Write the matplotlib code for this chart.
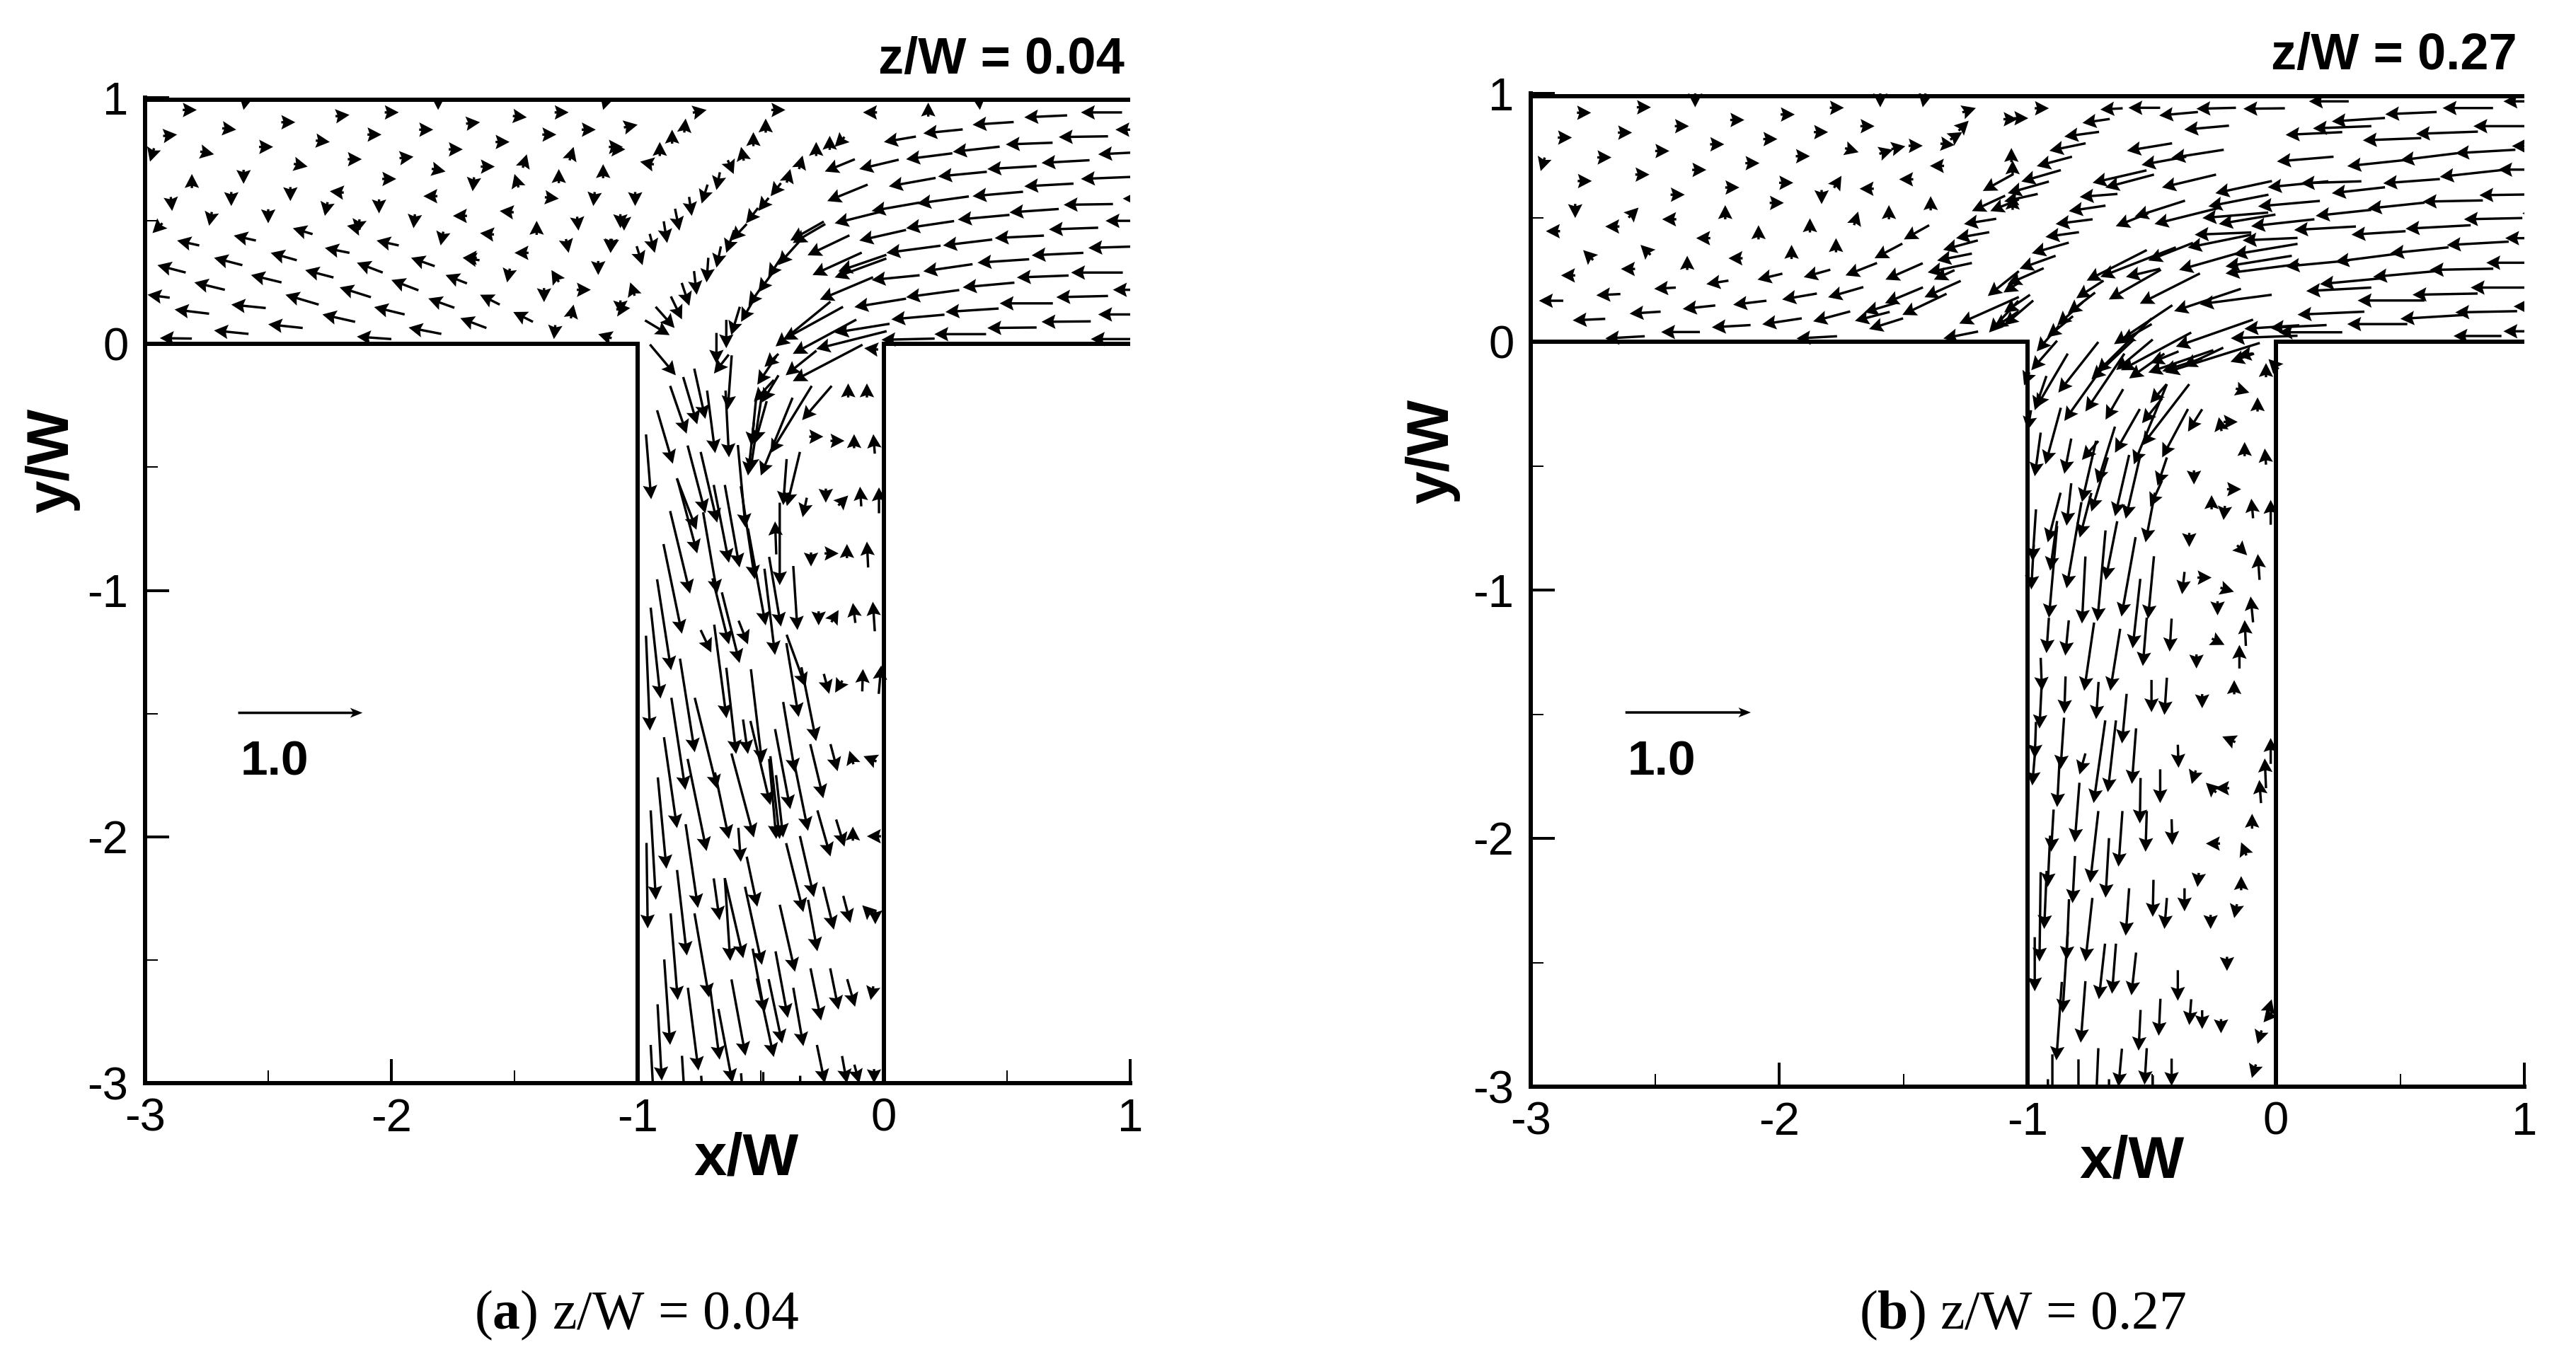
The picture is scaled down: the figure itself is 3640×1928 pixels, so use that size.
import numpy as np
import matplotlib
matplotlib.use('Agg')
import matplotlib.pyplot as plt

plt.rcParams['font.family'] = 'Liberation Sans'
plt.rcParams['mathtext.fontset'] = 'custom'
plt.rcParams['mathtext.bf'] = 'Liberation Serif:bold'
plt.rcParams['axes.unicode_minus'] = False

# ...
#==============================================================================
# tick labels and axis limits
#==============================================================================
x_ticks = [-3, -2, -1, 0, 1]
y_ticks = [-3, -2, -1, 0, 1]
x_tick_labels = ['-3', '-2', '-1', '0', '1']
y_tick_labels = ['-3', '-2', '-1', '0', '1']
x_minor = [-2.5, -1.5, -0.5, 0.5]
y_minor = [-2.5, -1.5, -0.5, 0.5]

# T junction walls (upper wall sits a little under y/W = 1)
wall_low_x = [-3, -1, -1]
wall_low_y = [0, 0, -3]
wall_right_x = [0, 0, 1]
wall_right_y = [-3, 0, 0]
wall_top_x = [-3, 1]
wall_top_left_y = [0.991, 0.991]
wall_top_right_y = [0.989, 0.989]

# reference vector
ref_tip_x = [-2.117, -2.114]
ref_tip_y = [-1.497, -1.493]
ref_u = 0.505

#==============================================================================
# panel a, arrow tips and vectors, upper left part of the main channel
#==============================================================================
a_field_x = [-2.79, -2.60, -2.87, -2.63, -2.72, -2.48, -2.39, -2.17, -2.25, -2.34,
             -2.12, -2.04, -1.97, -1.81, -1.83, -1.91, -1.71, -1.64, -1.45, -1.52,
             -1.58, -1.78, -1.98, -1.28, -1.14, -1.33, -1.17, -1.06, -1.45, -1.26,
             -1.14, -1.32, -1.50, -1.67, -1.32, -1.18, -1.87, -2.25, -2.41, -2.60,
             -2.81, -2.89, -2.65, -2.50, -2.74, -2.27, -2.05, -2.14, -1.91, -1.75,
             -1.56, -1.64, -1.41, -1.24, -1.07, -1.28, -1.11, -1.50, -1.80, -1.71,
             -1.16, -1.35, -1.53, -1.19, -1.38, -1.26, -1.07, -1.16, -1.34, -2.98,
             -2.97, -2.99, -2.87, -2.64, -2.40, -2.18, -2.27, -2.06, -2.49, -2.72,
             -2.95, -2.35, -2.14, -1.92, -1.78, -2.00, -1.71, -2.57, -2.80, -2.21,
             -2.43, -1.85, -1.64, -2.65, -2.88, -2.07, -2.28, -1.72, -1.505, -2.50,
             -2.72, -1.93, -2.14, -2.94]
a_field_y = [0.95, 0.95, 0.85, 0.87, 0.77, 0.80, 0.90, 0.93, 0.82, 0.72,
             0.75, 0.85, 0.94, 0.95, 0.87, 0.76, 0.79, 0.90, 0.92, 0.82,
             0.72, 0.70, 0.67, 0.94, 0.95, 0.85, 0.87, 0.80, 0.77, 0.80,
             0.73, 0.71, 0.69, 0.62, 0.59, 0.56, 0.60, 0.62, 0.58, 0.65,
             0.69, 0.54, 0.56, 0.49, 0.48, 0.52, 0.53, 0.45, 0.47, 0.52,
             0.54, 0.45, 0.50, 0.46, 0.47, 0.37, 0.37, 0.37, 0.40, 0.35,
             0.28, 0.30, 0.25, 0.22, 0.17, 0.16, 0.12, 0.04, 0.02, 0.74,
             0.45, 0.20, 0.42, 0.44, 0.47, 0.48, 0.39, 0.42, 0.37, 0.35,
             0.32, 0.30, 0.33, 0.35, 0.28, 0.26, 0.35, 0.28, 0.25, 0.23,
             0.20, 0.185, 0.20, 0.16, 0.14, 0.15, 0.12, 0.105, 0.13, 0.08,
             0.055, 0.067, 0.03, 0.024]
a_field_u = [0.03, -0.006, 0.03, 0.03, 0.03, 0.03, 0.03, 0.03, 0.03, 0.03,
             0.03, 0.03, 0.03, 0.0, 0.03, 0.03, 0.03, 0.03, 0.03, 0.03,
             0.03, 0.03, 0.03, 0.03, -0.009, 0.03, 0.03, 0.03, 0.009, 0.009,
             0.0, 0.0, -0.009, -0.003, 0.03, -0.003, -0.03, -0.03, 0.0, 0.0,
             0.0, 0.003, 0.0, 0.0, -0.006, -0.006, 0.0, -0.006, -0.003, -0.03,
             -0.03, -0.03, 0.0, 0.003, 0.0, 0.006, 0.0, -0.03, -0.006, -0.03,
             0.0, -0.015, -0.006, 0.03, 0.0, 0.006, 0.0, -0.03, -0.003, -0.009,
             -0.02, -0.09, -0.09, -0.09, -0.08, -0.055, -0.10, -0.09, -0.106, -0.115,
             -0.115, -0.115, -0.105, -0.096, -0.087, -0.11, -0.068, -0.124, -0.124, -0.127,
             -0.135, -0.106, -0.08, -0.14, -0.14, -0.124, -0.133, -0.106, -0.08, -0.14,
             -0.14, -0.133, -0.14, -0.13]
a_field_v = [0.0, -0.03, 0.003, -0.003, -0.006, 0.0, 0.0, 0.003, -0.003, -0.006,
             0.0, 0.0, 0.0, -0.03, 0.0, 0.003, 0.0, 0.003, -0.003, 0.0,
             0.0, -0.006, 0.0, 0.0, -0.03, 0.0, 0.0, 0.0, 0.03, 0.03,
             0.03, 0.03, 0.03, -0.03, -0.003, -0.03, 0.0, 0.003, -0.03, -0.03,
             0.03, -0.03, -0.03, -0.03, -0.03, -0.03, -0.03, -0.03, -0.03, 0.0,
             0.003, 0.003, 0.03, -0.03, -0.03, -0.03, -0.03, 0.0, -0.03, 0.0,
             -0.03, 0.024, -0.03, 0.0, -0.03, 0.03, -0.03, 0.009, -0.03, -0.03,
             -0.02, 0.012, 0.02, 0.02, 0.024, 0.012, 0.02, 0.02, 0.03, 0.03,
             0.03, 0.03, 0.04, 0.034, 0.034, 0.042, 0.01, 0.03, 0.03, 0.04,
             0.04, 0.038, 0.04, 0.014, 0.017, 0.03, 0.03, 0.04, 0.04, 0.015,
             0.014, 0.026, 0.01, 0.002]

#==============================================================================
# panel a, right part of the main channel
#==============================================================================
a_jet_x = [-1.00, -0.72, -0.40, -0.085, 0.18, 0.39, 0.80, 0.57, 0.36, 0.16,
           0.0, 0.94, 0.71, 0.495, 0.28, 0.09, -0.10, -0.24, 0.87, 0.64,
           0.42, 0.22, 0.02, -0.23, 0.80, 0.57, 0.36, 0.97, 0.73, 0.51,
           0.30, 0.135, -0.05, -0.20, -0.38, -0.37, 0.09, -0.10, -0.31, 0.90,
           0.67, 0.45, 0.24, 0.01, -0.29, -0.20, -0.185, 0.83, 0.60, 0.38,
           0.16, -0.05, -0.26, 0.76, 0.54, 0.32, 0.09, -0.12, 0.93, 0.70,
           0.47, 0.25, 0.03, 0.87, 0.64, 0.42, 0.205, -0.01, 0.84, -0.805,
           -0.86, -0.91, -0.99, -0.48, -0.53, -0.58, -0.61, -0.68, -0.74, -0.78,
           -0.83, -0.88, -0.93, -0.98, -0.22, -0.275, -0.20, -0.33, -0.38, -0.46,
           -0.51, -0.56, -0.62, -0.64, -0.68, -0.72, -0.76, -0.79, -0.82, -0.85,
           -0.87, -0.43, -0.47, -0.51, -0.55, -0.58, -0.62, -0.64, -0.68, -0.69,
           -1.01, -1.055, -1.11, -1.05, -1.03, -1.03, -0.44, -0.41, -0.37, -0.275,
           -0.20, -0.08]
a_jet_y = [0.89, 0.95, 0.95, 0.94, 0.98, 0.95, 0.94, 0.92, 0.89, 0.855,
           0.82, 0.87, 0.84, 0.81, 0.78, 0.75, 0.71, 0.70, 0.77, 0.735,
           0.71, 0.68, 0.64, 0.58, 0.67, 0.64, 0.60, 0.59, 0.565, 0.534,
           0.505, 0.57, 0.54, 0.49, 0.42, 0.41, 0.47, 0.42, 0.36, 0.50,
           0.465, 0.43, 0.40, 0.37, 0.28, 0.27, 0.295, 0.39, 0.36, 0.33,
           0.295, 0.26, 0.18, 0.29, 0.27, 0.23, 0.19, 0.15, 0.22, 0.19,
           0.165, 0.13, 0.10, 0.12, 0.09, 0.065, 0.04, 0.017, 0.02, 0.915,
           0.87, 0.82, 0.74, 0.915, 0.86, 0.80, 0.69, 0.625, 0.57, 0.52,
           0.46, 0.41, 0.37, 0.32, 0.845, 0.82, 0.80, 0.765, 0.71, 0.60,
           0.54, 0.49, 0.42, 0.37, 0.31, 0.25, 0.20, 0.155, 0.10, 0.065,
           0.036, 0.32, 0.27, 0.21, 0.155, 0.09, 0.036, -0.017, -0.08, -0.12,
           0.56, 0.46, 0.37, 0.79, 0.25, 0.146, -0.01, 0.017, -0.04, -0.02,
           0.046, -0.017]
a_jet_u = [0.03, 0.03, 0.03, -0.03, 0.0, 0.003, -0.167, -0.174, -0.167, -0.16,
           -0.13, -0.086, -0.2, -0.19, -0.19, -0.188, -0.16, -0.122, -0.16, -0.195,
           -0.2, -0.198, -0.19, -0.164, -0.2, -0.2, -0.205, -0.06, -0.2, -0.2,
           -0.21, -0.21, -0.195, -0.18, -0.136, -0.132, -0.195, -0.19, -0.17, -0.125,
           -0.2, -0.2, -0.2, -0.22, -0.2, -0.21, -0.195, -0.195, -0.21, -0.21,
           -0.2, -0.195, -0.216, -0.21, -0.21, -0.21, -0.216, -0.21, -0.095, -0.21,
           -0.216, -0.216, -0.216, -0.16, -0.2, -0.2, -0.21, -0.216, -0.167, 0.003,
           0.0, 0.0, -0.03, 0.0, 0.0, -0.006, 0.024, -0.014, -0.024, 0.011,
           0.018, 0.014, 0.021, 0.024, 0.0, 0.0, -0.02, 0.008, 0.008, -0.042,
           -0.042, -0.049, -0.063, -0.032, -0.018, -0.007, 0.011, 0.031, 0.045, 0.077,
           0.10, -0.09, -0.063, -0.063, -0.063, -0.049, -0.035, 0.0, 0.0, -0.06,
           0.0, 0.0, -0.003, 0.03, -0.01, 0.03, -0.223, -0.244, -0.258, -0.286,
           -0.223, -0.03]
a_jet_v = [0.006, 0.006, 0.0, 0.0, 0.03, -0.03, 0.0, -0.008, -0.011, -0.016,
           -0.022, 0.0, -0.003, -0.007, -0.021, -0.024, -0.038, -0.05, -0.008, -0.011,
           -0.012, -0.019, -0.034, -0.067, -0.008, -0.011, -0.018, 0.0, -0.003, -0.014,
           -0.019, -0.029, -0.034, -0.045, -0.077, -0.077, -0.029, -0.043, -0.081, 0.0,
           -0.007, -0.01, -0.024, -0.029, -0.091, -0.077, -0.067, -0.006, -0.01, -0.014,
           -0.029, -0.019, -0.091, 0.0, -0.008, -0.019, -0.029, -0.034, 0.0, -0.005,
           0.0, -0.014, -0.019, 0.0, -0.002, -0.002, 0.0, -0.005, 0.0, 0.03,
           0.03, 0.03, 0.006, 0.03, 0.03, 0.03, -0.056, -0.072, -0.077, -0.077,
           -0.089, -0.088, -0.077, -0.077, 0.03, 0.03, -0.02, 0.03, 0.03, -0.053,
           -0.053, -0.062, -0.067, -0.092, -0.086, -0.10, -0.096, -0.093, -0.093, -0.086,
           -0.06, -0.10, -0.096, -0.086, -0.091, -0.086, -0.115, -0.115, -0.125, -0.077,
           -0.03, -0.03, -0.03, 0.0, 0.03, 0.003, -0.182, -0.134, -0.139, -0.072,
           -0.036, 0.003]

#==============================================================================
# panel a, side branch, upper half
#==============================================================================
a_top_x = [-0.845, -0.758, -0.725, -0.801, -0.685, -0.857, -0.945, -0.634, -0.629, -0.725,
           -0.677, -0.761, -0.758, -0.629, -0.586, -0.562, -0.787, -0.677, -0.524, -0.48,
           -0.82, -0.629, -0.552, -0.442, -0.418, -0.701, -0.586, -0.864, -0.423, -0.351,
           -0.318, -0.442, -0.907, -0.409, -0.394, -0.552, -0.543, -0.50, -0.461, -0.332,
           -0.528, -0.495, -0.538, -0.524, -0.514, -0.485, -0.399, -0.37, -0.145, -0.069,
           -0.246, -0.16, -0.121, -0.043, -0.236, -0.145, -0.097, -0.02, -0.33, -0.296,
           -0.184, -0.15, -0.069, -0.265, -0.184, -0.126, -0.045, -0.222, -0.198, -0.085,
           -0.011]
a_top_y = [-0.127, -0.326, -0.304, -0.364, -0.443, -0.486, -0.63, -0.266, -0.46, -0.687,
           -0.725, -0.754, -0.85, -0.888, -0.907, -0.745, -1.013, -1.013, -0.955, -1.142,
           -1.176, -1.219, -1.219, -1.262, -1.147, -1.252, -1.295, -1.324, -0.979, -1.161,
           -1.391, -0.72, -1.439, -0.654, -0.658, -0.534, -0.519, -0.534, -0.443, -0.309,
           -0.234, -0.237, -0.414, -0.404, -0.165, -0.093, -0.127, -0.151, -0.16, -0.16,
           -0.376, -0.393, -0.366, -0.366, -0.644, -0.615, -0.579, -0.582, -0.703, -0.903,
           -0.85, -0.812, -0.802, -1.142, -1.08, -1.051, -1.046, -1.42, -1.415, -1.319,
           -1.305]
a_top_u = [0.105, 0.057, 0.045, 0.067, 0.033, 0.064, 0.021, -0.016, 0.014, 0.072,
           0.067, 0.08, 0.081, 0.062, 0.06, 0.031, 0.081, 0.057, 0.057, 0.072,
           0.075, 0.067, 0.038, 0.043, 0.048, 0.043, 0.072, 0.057, 0.0, 0.017,
           0.077, -0.005, 0.04, -0.014, -0.053, -0.024, -0.048, -0.129, -0.168, -0.12,
           -0.081, -0.067, -0.019, -0.048, -0.077, -0.057, -0.125, -0.283, 0.0, 0.0,
           0.03, 0.03, 0.0, -0.006, 0.0, 0.02, -0.005, 0.0, -0.017, 0.0,
           0.03, 0.0, -0.005, 0.0, 0.015, -0.01, -0.008, 0.022, -0.015, 0.003,
           0.01]
a_top_v = [-0.125, -0.192, -0.204, -0.194, -0.254, -0.217, -0.263, -0.22, -0.271, -0.275,
           -0.287, -0.209, -0.302, -0.316, -0.335, -0.335, -0.335, -0.33, -0.378, -0.393,
           -0.364, -0.268, -0.096, -0.35, -0.283, -0.091, -0.287, -0.369, -0.335, -0.26,
           -0.211, 0.134, -0.369, -0.187, -0.22, -0.216, -0.316, -0.316, -0.273, -0.139,
           -0.088, -0.11, -0.192, -0.172, -0.115, -0.053, -0.10, -0.148, 0.03, 0.03,
           0.0, 0.0, 0.03, 0.079, -0.03, 0.02, 0.08, 0.105, -0.079, -0.03,
           0.0, 0.03, 0.105, -0.03, 0.025, 0.081, 0.12, -0.081, -0.025, 0.091,
           0.115]

#==============================================================================
# panel a, side branch, lower half
#==============================================================================
a_low_x = [-0.95, -0.768, -0.677, -0.639, -0.60, -0.552, -0.495, -0.346, -0.275, -0.188,
           -0.14, -0.083, -0.361, -0.246, -0.461, -0.38, -0.308, -0.217, -0.16, -0.126,
           -0.069, -0.423, -0.437, -0.409, -0.528, -0.629, -0.72, -0.581, -0.84, -0.883,
           -0.926, -0.959, -0.755, -0.806, -0.80, -0.514, -0.284, -0.327, -0.667, -0.203,
           -0.136, -0.088, -0.035, -0.27, -0.624, -0.571, -0.495, -0.361, -0.837, -0.868,
           -0.71, -0.485, -0.39, -0.255, -0.184, -0.117, -0.054, -0.753, -0.667, -0.562,
           -0.447, -0.413, -0.327, -0.902, -0.615, -0.93, -0.80, -0.72, -0.56, -0.49,
           -0.34, -0.24, -0.15, -0.10, -0.04]
a_low_y = [-1.569, -1.657, -1.805, -1.519, -1.664, -1.664, -1.70, -1.514, -1.612, -1.734,
           -1.651, -1.673, -1.739, -1.844, -1.871, -1.888, -1.976, -2.08, -2.04, -1.959,
           -1.998, -2.009, -2.009, -2.003, -2.003, -2.009, -2.058, -2.102, -1.965, -2.13,
           -2.256, -2.372, -2.289, -1.81, -2.482, -2.284, -2.245, -2.306, -2.339, -2.377,
           -2.35, -2.278, -2.355, -2.465, -2.504, -2.493, -2.52, -2.548, -2.663, -2.845,
           -2.652, -2.713, -2.735, -2.746, -2.702, -2.69, -2.663, -2.949, -2.905, -2.889,
           -2.894, -2.839, -2.85, -2.99, -2.999, -3.15, -3.2, -3.25, -3.25, -3.25,
           -3.25, -3.0, -3.0, -3.0, -3.0]
a_low_u = [0.016, 0.06, 0.091, 0.05, 0.04, 0.02, 0.045, 0.05, 0.06, 0.029,
           -0.009, -0.03, 0.048, 0.053, 0.081, 0.062, 0.057, 0.053, 0.034, 0.0,
           -0.03, 0.038, 0.029, 0.029, 0.091, 0.057, 0.077, 0.01, 0.053, 0.035,
           0.021, 0.005, 0.05, 0.057, 0.04, 0.043, 0.057, 0.07, 0.024, 0.043,
           0.029, -0.02, 0.0, 0.038, 0.022, 0.075, 0.069, 0.062, 0.029, 0.024,
           0.059, 0.048, 0.05, 0.043, 0.034, 0.032, -0.006, 0.043, 0.038, 0.057,
           0.069, 0.055, 0.041, 0.017, 0.057, 0.017, 0.02, 0.022, 0.02, 0.0,
           0.0, 0.032, 0.02, 0.02, 0.0]
a_low_v = [-0.385, -0.38, -0.369, -0.38, -0.35, -0.14, -0.38, -0.30, -0.30, -0.11,
           0.03, 0.012, -0.286, -0.22, -0.341, -0.325, -0.28, -0.187, -0.11, 0.03,
           0.0, -0.336, -0.325, -0.253, -0.341, -0.27, -0.374, -0.138, -0.369, -0.371,
           -0.363, -0.347, -0.34, -0.374, -0.347, -0.203, -0.248, -0.28, -0.17, -0.174,
           -0.11, 0.02, -0.03, -0.209, -0.336, -0.325, -0.317, -0.272, -0.352, -0.347,
           -0.341, -0.259, -0.27, -0.212, -0.168, -0.112, -0.03, -0.336, -0.286, -0.31,
           -0.319, -0.261, -0.237, -0.31, -0.30, -0.305, -0.311, -0.28, -0.29, -0.295,
           -0.28, -0.155, -0.11, -0.075, -0.03]

#==============================================================================
# panel b, upper left part of the main channel
#==============================================================================
b_field_x = [-2.757, -2.516, -2.338, -2.834, -2.592, -2.363, -2.14, -1.937, -1.739, -1.593,
             -1.422, -1.208, -1.237, -1.263, -1.04, -2.675, -2.442, -2.221, -2.007, -1.803,
             -1.616, -1.492, -1.422, -1.294, -1.542, -1.68, -1.876, -2.079, -2.293, -2.522,
             -2.754, -2.96, -2.38, -2.16, -1.943, -1.749, -1.393, -1.517, -1.676, -1.829,
             -1.981, -2.566, -2.821, -2.217, -1.558, -1.39, -1.682, -1.876, -2.083, -2.471,
             -2.70, -2.939, -2.334, -2.558, -2.789, -1.771, -1.95, -2.204, -2.37, -2.637,
             -2.878, -1.498, -1.616, -1.733, -1.572, -1.901, -2.087, -2.293, -2.503, -2.736,
             -2.967, -2.831, -2.602, -2.388, -2.185, -1.988, -1.803, -1.574, -1.415, -1.657,
             -1.504, -1.695, -1.638, -1.863, -2.068, -2.271, -2.475, -2.70, -1.93, -1.339,
             -1.18, -1.06, -1.224, -1.15, -1.256, -1.288, -1.34, -1.364, -1.402, -1.377,
             -1.065, -1.06, -1.275, -1.155, -1.136, -1.16, -1.097]
b_field_y = [0.922, 0.944, 0.944, 0.822, 0.842, 0.868, 0.893, 0.915, 0.942, 0.944,
             0.944, 0.941, 0.89, 0.844, 0.896, 0.742, 0.768, 0.795, 0.816, 0.844,
             0.868, 0.787, 0.789, 0.792, 0.773, 0.763, 0.747, 0.719, 0.692, 0.673,
             0.647, 0.687, 0.592, 0.621, 0.64, 0.668, 0.708, 0.654, 0.616, 0.554,
             0.559, 0.54, 0.498, 0.55, 0.55, 0.586, 0.524, 0.497, 0.469, 0.493,
             0.464, 0.445, 0.417, 0.39, 0.369, 0.417, 0.39, 0.336, 0.346, 0.293,
             0.267, 0.412, 0.336, 0.267, 0.25, 0.26, 0.25, 0.232, 0.213, 0.187,
             0.165, 0.086, 0.113, 0.132, 0.149, 0.17, 0.179, 0.155, 0.179, 0.118,
             0.108, 0.084, 0.051, 0.082, 0.07, 0.058, 0.039, 0.013, 0.013, 0.013,
             0.607, 0.588, 0.526, 0.526, 0.474, 0.417, 0.37, 0.327, 0.279, 0.25,
             0.78, 0.73, 0.073, 0.037, 0.056, 0.184, 0.198]
b_field_u = [0.03, 0.03, 0.0, 0.03, 0.03, 0.03, 0.03, 0.03, 0.03, 0.0,
             -0.006, 0.028, 0.021, 0.024, 0.03, 0.03, 0.03, 0.03, 0.03, 0.03,
             0.03, 0.03, 0.03, 0.03, 0.03, 0.03, 0.03, 0.03, 0.03, 0.03,
             0.03, -0.009, 0.03, 0.03, 0.03, 0.015, -0.03, -0.03, -0.03, 0.0,
             0.03, 0.02, 0.0, 0.0, 0.0, 0.0, 0.009, 0.0, 0.0, -0.03,
             -0.03, -0.03, -0.03, -0.02, -0.02, 0.0, 0.0, -0.03, 0.0, -0.03,
             -0.03, -0.102, -0.112, -0.127, -0.15, -0.107, -0.10, -0.089, -0.087, -0.097,
             -0.098, -0.131, -0.125, -0.131, -0.134, -0.14, -0.142, -0.153, -0.146, -0.127,
             -0.178, -0.14, -0.137, -0.149, -0.159, -0.156, -0.156, -0.159, -0.163, -0.14,
             -0.123, 0.0, -0.134, -0.115, -0.13, -0.134, -0.14, -0.14, -0.178, -0.083,
             0.0, 0.0, -0.24, -0.118, -0.10, -0.125, -0.06]
b_field_v = [0.0, 0.0, -0.03, 0.0, 0.0, 0.0, 0.0, 0.0, 0.0, -0.03,
             -0.03, 0.009, 0.021, 0.015, 0.0, 0.0, 0.0, 0.0, 0.0, 0.0,
             0.0, 0.006, 0.0, -0.003, 0.009, -0.009, 0.0, 0.0, 0.0, 0.0,
             0.0, -0.03, 0.0, 0.0, 0.0, 0.024, 0.0, 0.0, 0.0, -0.03,
             0.0, 0.02, -0.03, 0.03, 0.03, 0.03, 0.03, 0.03, 0.03, 0.0,
             0.0, 0.0, 0.0, 0.02, 0.02, 0.03, 0.03, 0.0, 0.03, 0.0,
             0.0, -0.057, -0.059, -0.05, -0.066, -0.03, -0.024, -0.014, -0.005, -0.005,
             0.0, -0.006, -0.008, -0.014, -0.016, -0.024, -0.041, -0.064, -0.066, -0.038,
             -0.085, -0.036, -0.043, -0.04, -0.024, -0.009, 0.0, -0.009, -0.009, -0.028,
             -0.068, 0.03, -0.062, -0.047, -0.021, -0.024, -0.038, -0.028, -0.038, -0.038,
             0.03, 0.03, -0.107, -0.128, -0.066, -0.10, -0.038]

#==============================================================================
# panel b, right part of the main channel
#==============================================================================
b_jet_x = [-0.914, -0.997, -0.707, -0.594, -0.47, -0.32, -0.131, 0.133, -0.369, -0.779,
           -0.852, -0.912, -0.963, -0.60, -0.421, -0.541, -1.025, -1.08, -1.094, -0.738,
           -0.687, -0.79, -0.834, -0.887, -0.928, -0.983, -1.032, -1.08, -0.459, -0.244,
           -0.033, 0.10, 0.225, 0.432, 0.66, 0.895, 0.004, 0.287, 0.501, 0.722,
           0.95, 0.039, 0.149, 0.225, 0.44, 0.671, 0.916, 0.35, 0.564, 0.795,
           0.819, 0.591, 0.37, 0.16, -0.072, -0.272, -0.489, -0.569, -0.645, -0.296,
           -0.23, -0.10, 0.073, 0.304, 0.522, 0.757, 0.992, -0.327, -0.134, -0.355,
           -0.39, -0.171, -0.514, -0.203, -0.203, 0.039, 0.239, 0.46, 0.688, 0.923,
           0.847, 0.619, 0.391, 0.177, 0.122, 0.329, 0.55, 0.784, 0.957, 0.722,
           0.501, 0.287, 0.087, 0.916, 0.715, 0.011, -0.024, -0.127, -0.182, -0.403,
           -0.652, -0.673, -0.548, -0.307, -0.41, -0.762, -0.604, -0.707, -0.804, -0.838,
           -0.88, -0.921, -0.963, -1.094, -1.094, -0.624, -0.721, -0.155, -0.03, -0.514,
           -0.445, -0.624]
b_jet_y = [0.94, 0.90, 0.935, 0.942, 0.911, 0.938, 0.938, 0.968, 0.854, 0.881,
           0.826, 0.769, 0.707, 0.769, 0.74, 0.712, 0.645, 0.598, 0.565, 0.64,
           0.621, 0.583, 0.526, 0.474, 0.422, 0.356, 0.294, 0.232, 0.621, 0.598,
           0.622, 0.638, 0.598, 0.638, 0.664, 0.693, 0.726, 0.707, 0.731, 0.759,
           0.788, 0.833, 0.859, 0.887, 0.916, 0.941, 0.968, 0.811, 0.837, 0.868,
           0.59, 0.564, 0.536, 0.507, 0.545, 0.545, 0.474, 0.503, 0.465, 0.498,
           0.474, 0.465, 0.45, 0.431, 0.455, 0.493, 0.517, 0.431, 0.408, 0.379,
           0.289, 0.351, 0.327, 0.303, 0.275, 0.303, 0.322, 0.356, 0.389, 0.417,
           0.318, 0.289, 0.261, 0.232, 0.204, 0.166, 0.189, 0.218, 0.142, 0.118,
           0.092, 0.071, 0.109, 0.042, 0.023, 0.038, 0.056, 0.052, 0.014, -0.02,
           -0.01, 0.17, 0.153, 0.151, 0.123, 0.246, 0.261, 0.261, 0.175, 0.113,
           0.066, 0.018, -0.039, 0.118, 0.066, 0.0, -0.124, -0.057, -0.07, -0.124,
           -0.124, -0.115]
b_jet_u = [0.03, 0.03, -0.09, -0.128, -0.156, -0.159, -0.167, -0.16, -0.18, -0.11,
           -0.14, -0.146, -0.142, -0.182, -0.211, -0.18, -0.159, -0.166, -0.135, -0.217,
           -0.196, -0.152, -0.148, -0.149, -0.135, -0.149, -0.145, -0.145, -0.218, -0.228,
           -0.244, -0.244, -0.214, -0.228, -0.256, -0.128, -0.228, -0.228, -0.228, -0.242,
           -0.073, -0.228, -0.235, -0.214, -0.207, -0.203, -0.108, -0.235, -0.249, -0.228,
           -0.204, -0.242, -0.229, -0.224, -0.249, -0.242, -0.265, -0.203, -0.131, -0.265,
           -0.228, -0.255, -0.249, -0.218, -0.262, -0.235, -0.03, -0.228, -0.221, -0.256,
           -0.249, -0.258, -0.18, -0.267, -0.297, -0.256, -0.256, -0.235, -0.249, -0.10,
           -0.177, -0.256, -0.262, -0.256, -0.262, -0.269, -0.262, -0.239, -0.066, -0.249,
           -0.262, -0.242, -0.269, -0.108, -0.193, -0.256, -0.228, -0.221, -0.269, -0.311,
           -0.235, -0.21, -0.242, -0.29, -0.269, -0.242, -0.138, -0.304, -0.11, -0.11,
           -0.104, -0.104, -0.09, -0.104, -0.117, -0.124, -0.221, -0.062, -0.02, -0.262,
           -0.38, -0.283]
b_jet_v = [0.0, 0.0, -0.005, 0.0, -0.014, -0.004, -0.002, 0.0, -0.016, -0.016,
           -0.019, -0.03, -0.038, -0.03, -0.033, -0.033, -0.046, -0.047, -0.03, -0.05,
           -0.052, -0.012, -0.022, -0.019, -0.019, -0.043, -0.052, -0.064, -0.052, -0.049,
           -0.024, -0.008, -0.024, -0.017, -0.028, 0.0, -0.019, -0.024, -0.028, -0.014,
           0.0, -0.011, -0.009, -0.014, -0.009, 0.0, 0.0, -0.009, -0.009, 0.0,
           -0.003, -0.005, -0.024, -0.024, -0.022, -0.047, -0.066, -0.065, -0.052, -0.022,
           -0.038, -0.028, -0.014, -0.014, -0.014, -0.005, 0.0, -0.009, -0.01, -0.052,
           -0.071, -0.043, -0.071, -0.043, -0.038, -0.024, -0.033, -0.024, -0.014, 0.0,
           0.0, -0.005, -0.024, -0.024, -0.014, 0.0, -0.005, 0.0, 0.0, -0.005,
           -0.016, 0.0, -0.012, 0.0, 0.0, 0.0, -0.011, -0.014, -0.01, -0.109,
           -0.157, -0.12, -0.122, -0.038, -0.09, -0.123, -0.033, -0.119, -0.071, -0.085,
           -0.095, -0.085, -0.104, -0.071, -0.10, -0.071, -0.218, -0.01, 0.02, -0.09,
           -0.119, -0.152]

#==============================================================================
# panel b, side branch, upper half
#==============================================================================
b_top_x = [-0.985, -1.014, -0.971, -1.0, -0.876, -0.966, -0.743, -0.852, -0.767, -0.686,
           -0.643, -0.591, -0.458, -0.506, -0.373, -0.183, -0.04, -0.506, -0.539, -0.781,
           -0.852, -0.928, -0.971, -0.648, -0.719, -0.572, -0.539, -0.458, -0.354, -0.477,
           -0.506, -0.107, -0.074, -0.23, -0.154, -0.126, -0.045, -0.33, -0.14, -0.259,
           -0.211, -0.099, -0.021, -0.349, -0.116, -0.073, -0.378, -0.259, -0.169, -0.235,
           -0.102, -0.126, -0.207, -0.147, -0.32, -0.168, -0.428, -0.577, -0.536, -0.515,
           -0.622, -0.719, -0.781, -0.525, -0.605, -0.648, -0.743, -0.781, -0.843, -0.79,
           -0.919, -0.686, -0.843, -0.909, -0.914, -0.98, -0.985, -0.924, -0.848, -0.942,
           -0.772, -0.667]
b_top_y = [-0.115, -0.176, -0.276, -0.357, -0.205, -0.266, -0.152, -0.319, -0.281, -0.314,
           -0.114, -0.148, -0.119, -0.086, -0.10, -0.081, -0.086, -0.247, -0.328, -0.476,
           -0.532, -0.494, -0.542, -0.447, -0.57, -0.494, -0.418, -0.466, -0.362, -0.58,
           -0.665, -0.205, -0.224, -0.304, -0.323, -0.404, -0.43, -0.575, -0.594, -0.618,
           -0.718, -0.632, -0.637, -0.827, -0.86, -0.855, -1.017, -0.95, -1.007, -1.102,
           -1.026, -1.121, -1.221, -1.221, -1.316, -1.363, -1.248, -1.235, -1.306, -1.116,
           -1.107, -1.126, -1.135, -0.808, -0.713, -0.703, -0.684, -0.646, -0.741, -0.789,
           -0.808, -0.96, -0.993, -0.922, -1.112, -0.884, -0.998, -1.254, -1.264, -1.406,
           -1.406, -1.406]
b_top_u = [-0.104, -0.02, -0.047, -0.014, -0.161, -0.128, -0.171, -0.166, -0.157, -0.071,
           -0.147, -0.142, -0.161, -0.114, -0.161, -0.095, 0.0, -0.066, -0.081, -0.066,
           -0.028, -0.062, -0.024, -0.10, -0.071, -0.133, -0.19, -0.104, -0.057, -0.038,
           -0.047, 0.03, 0.0, -0.006, 0.03, 0.0, -0.005, 0.0, 0.03, 0.0,
           -0.003, -0.007, 0.0, 0.0, 0.02, -0.007, -0.01, 0.03, 0.03, 0.0,
           -0.01, -0.005, 0.026, 0.0, 0.0, 0.0, -0.008, -0.031, -0.016, -0.024,
           -0.057, -0.033, -0.014, -0.038, -0.057, -0.057, -0.066, -0.057, -0.019, -0.047,
           -0.052, -0.047, -0.06, -0.028, -0.033, -0.014, -0.01, -0.01, -0.014, 0.005,
           -0.04, -0.04]
b_top_v = [-0.119, -0.05, -0.138, -0.081, -0.204, -0.218, -0.161, -0.233, -0.233, -0.123,
           -0.123, -0.10, -0.052, -0.047, -0.076, -0.033, 0.03, -0.076, -0.10, -0.076,
           -0.142, -0.228, -0.176, -0.176, -0.228, -0.323, -0.247, -0.195, -0.09, -0.114,
           -0.105, -0.009, 0.03, 0.03, 0.0, 0.03, 0.065, -0.03, 0.0, 0.03,
           -0.03, 0.079, 0.10, -0.03, -0.02, 0.104, -0.09, 0.0, -0.009, -0.03,
           0.104, 0.104, -0.013, 0.095, -0.03, 0.03, -0.133, -0.28, -0.195, -0.252,
           -0.32, -0.366, -0.27, -0.20, -0.247, -0.247, -0.218, -0.247, -0.171, -0.18,
           -0.20, -0.237, -0.347, -0.20, -0.37, -0.209, -0.18, -0.142, -0.142, -0.133,
           -0.275, -0.25]

#==============================================================================
# panel b, side branch, lower half
#==============================================================================
b_low_x = [-0.952, -0.971, -0.981, -0.852, -0.867, -0.791, -0.724, -0.734, -0.677, -0.62,
           -0.58, -0.501, -0.449, -0.297, -0.392, -0.339, -0.282, -0.245, -0.216, -0.466,
           -0.548, -0.525, -0.881, -0.81, -0.905, -0.634, -0.748, -0.417, -0.096, -0.067,
           -0.045, -0.021, -0.282, -0.14, -0.14, -0.316, -0.368, -0.168, -0.263, -0.449,
           -0.496, -0.605, -0.686, -0.819, -0.919, -0.933, -0.952, -0.971, -0.843, -0.767,
           -0.859, -0.713, -0.66, -0.582, -0.197, -0.395, -0.349, -0.297, -0.221, -0.472,
           -0.553, -0.786, -0.884, -0.074, -0.097, -0.05, -0.017, -0.634, -0.529, -0.42,
           -0.795, -0.73, -0.90, -0.918, -0.672, -0.496]
b_low_y = [-1.558, -1.678, -1.787, -1.498, -1.721, -1.743, -1.52, -1.858, -1.814, -1.618,
           -1.781, -1.492, -1.503, -1.476, -1.716, -1.781, -1.776, -1.798, -1.59, -1.858,
           -1.94, -2.054, -1.874, -2.016, -2.054, -2.114, -2.179, -2.027, -1.901, -1.765,
           -1.678, -1.596, -2.021, -2.016, -2.152, -2.196, -2.294, -2.321, -2.365, -2.365,
           -2.316, -2.392, -2.239, -2.261, -2.196, -2.365, -2.496, -2.616, -2.49, -2.496,
           -2.703, -2.648, -2.626, -2.632, -2.534, -2.654, -2.752, -2.768, -2.785, -2.795,
           -2.855, -2.823, -2.894, -2.828, -2.965, -2.741, -2.648, -3.0, -2.992, -2.997,
           -3.2, -3.2, -3.2, -3.2, -3.2, -3.2]
b_low_u = [-0.01, -0.005, -0.01, -0.005, -0.014, -0.024, -0.01, -0.047, -0.033, -0.019,
           -0.017, 0.0, -0.01, 0.0, 0.003, -0.009, -0.021, -0.03, -0.021, 0.0,
           -0.003, -0.005, -0.01, -0.019, -0.01, -0.016, -0.033, 0.003, 0.0, -0.007,
           -0.005, 0.0, -0.03, -0.012, 0.0, -0.003, 0.0, -0.006, 0.0, -0.01,
           -0.003, -0.014, -0.014, -0.01, -0.01, -0.01, -0.005, 0.0, -0.01, -0.028,
           -0.021, -0.025, -0.016, -0.019, 0.0, 0.0, -0.008, 0.0, 0.0, -0.007,
           -0.008, -0.019, -0.022, -0.009, -0.009, -0.02, 0.009, -0.014, -0.009, 0.0,
           0.0, -0.015, 0.0, 0.0, 0.0, 0.0]
b_low_v = [-0.20, -0.147, -0.12, -0.15, -0.207, -0.085, -0.15, -0.333, -0.289, -0.20,
           -0.224, -0.13, -0.15, -0.03, -0.093, -0.03, 0.02, 0.0, 0.009, -0.136,
           -0.183, -0.164, -0.19, -0.24, -0.17, -0.224, -0.289, -0.104, 0.06, 0.093,
           0.12, 0.104, 0.0, 0.03, 0.03, -0.03, -0.093, -0.03, -0.03, -0.125,
           -0.149, -0.191, -0.24, -0.19, -0.207, -0.234, -0.36, -0.218, -0.245, -0.256,
           -0.327, -0.224, -0.202, -0.172, -0.03, -0.123, -0.104, -0.076, -0.03, -0.149,
           -0.164, -0.248, -0.316, -0.03, -0.03, -0.024, 0.03, -0.153, -0.147, -0.11,
           -0.31, -0.355, -0.33, -0.23, -0.23, -0.246]


#==============================================================================
def draw_panel(rect, x_parts, y_parts, u_parts, v_parts, top_y, tip_x, tip_y,
               tag, tag_pos, x_label_pos, y_label_pos, one_pos):

    px = 0.72  # points per pixel at dpi 100
    ax = fig.add_axes(rect)
    ax.set_xlim(-3, 1)
    ax.set_ylim(-3, 1)
    ax.spines['top'].set_visible(False)
    ax.spines['right'].set_visible(False)
    ax.spines['left'].set_linewidth(6 * px)
    ax.spines['bottom'].set_linewidth(6 * px)

    ax.set_xticks(x_ticks)
    ax.set_xticklabels(x_tick_labels)
    ax.set_yticks(y_ticks)
    ax.set_yticklabels(y_tick_labels)
    ax.set_xticks(x_minor, minor=True)
    ax.set_yticks(y_minor, minor=True)
    ax.tick_params(which='major', direction='in', length=34 * px, width=4 * px,
                   labelsize=47)
    ax.tick_params(which='minor', direction='in', length=18 * px, width=2 * px)
    ax.tick_params(axis='x', which='major', pad=15)
    ax.tick_params(axis='y', which='major', pad=17)

    for wx, wy in [(wall_low_x, wall_low_y), (wall_right_x, wall_right_y),
                   (wall_top_x, top_y)]:
        ax.plot(wx, wy, color='black', lw=6 * px, solid_capstyle='butt',
                solid_joinstyle='miter')

    u = np.concatenate(u_parts)
    v = np.concatenate(v_parts)
    # vectors shorter than the head would turn the quiver polygon inside out
    speed = np.hypot(u, v)
    short = speed < 0.057
    u[short] = u[short] * 0.057 / speed[short]
    v[short] = v[short] * 0.057 / speed[short]

    # head has a fixed size, as in Tecplot vector plots
    ax.quiver(np.concatenate(x_parts), np.concatenate(y_parts), u, v,
              angles='xy', scale_units='xy', scale=1, pivot='tip', units='dots',
              width=3.4, headwidth=6, headlength=5.8, headaxislength=5,
              minshaft=0, minlength=0, color='black')
    ax.quiver([tip_x], [tip_y], [ref_u], [0], angles='xy', scale_units='xy',
              scale=1, pivot='tip', units='dots', width=3.5, headwidth=4,
              headlength=5, headaxislength=4, minshaft=0, minlength=0,
              color='black')

    ax.text(one_pos[0], one_pos[1], '1.0', fontsize=50, fontweight='bold',
            va='baseline', ha='left')
    fig.text(tag_pos[0] / 3640, 1 - tag_pos[1] / 1928, tag, fontsize=52,
             fontweight='bold', ha='right', va='baseline')

    ax.set_xlabel('x/W', fontsize=60, fontweight='bold')
    ax.xaxis.set_label_coords(x_label_pos[0], x_label_pos[1])
    ax.set_ylabel('y/W', fontsize=60, fontweight='bold')
    ax.yaxis.set_label_coords(y_label_pos[0], y_label_pos[1])
    return ax


fig = plt.figure(figsize=(36.4, 19.28), dpi=100, facecolor='white')

draw_panel([205 / 3640, 1 - 1531 / 1928, 1392 / 3640, 1393 / 1928],
           [a_field_x, a_jet_x, a_top_x, a_low_x],
           [a_field_y, a_jet_y, a_top_y, a_low_y],
           [a_field_u, a_jet_u, a_top_u, a_low_u],
           [a_field_v, a_jet_v, a_top_v, a_low_v],
           wall_top_left_y, ref_tip_x[0], ref_tip_y[0], 'z/W = 0.04', (1589, 104),
           (0.61, -0.0495), (-0.066, 0.632), (-2.612, -1.75))

draw_panel([2163 / 3640, 1 - 1536 / 1928, 1404 / 3640, 1404 / 1928],
           [b_field_x, b_jet_x, b_top_x, b_low_x],
           [b_field_y, b_jet_y, b_top_y, b_low_y],
           [b_field_u, b_jet_u, b_top_u, b_low_u],
           [b_field_v, b_jet_v, b_top_v, b_low_v],
           wall_top_right_y, ref_tip_x[1], ref_tip_y[1], 'z/W = 0.27', (3557, 98),
           (0.605, -0.048), (-0.071, 0.64), (-2.61, -1.744))

fig.text(670 / 3640, 1 - 1878 / 1928, r'($\mathbf{a}$) z/W = 0.04', fontsize=56,
         family='Liberation Serif', va='baseline', ha='left')
fig.text(2627 / 3640, 1 - 1878 / 1928, r'($\mathbf{b}$) z/W = 0.27', fontsize=56,
         family='Liberation Serif', va='baseline', ha='left')

fig.savefig('out.png', dpi=100, facecolor='white')
plt.close(fig)
